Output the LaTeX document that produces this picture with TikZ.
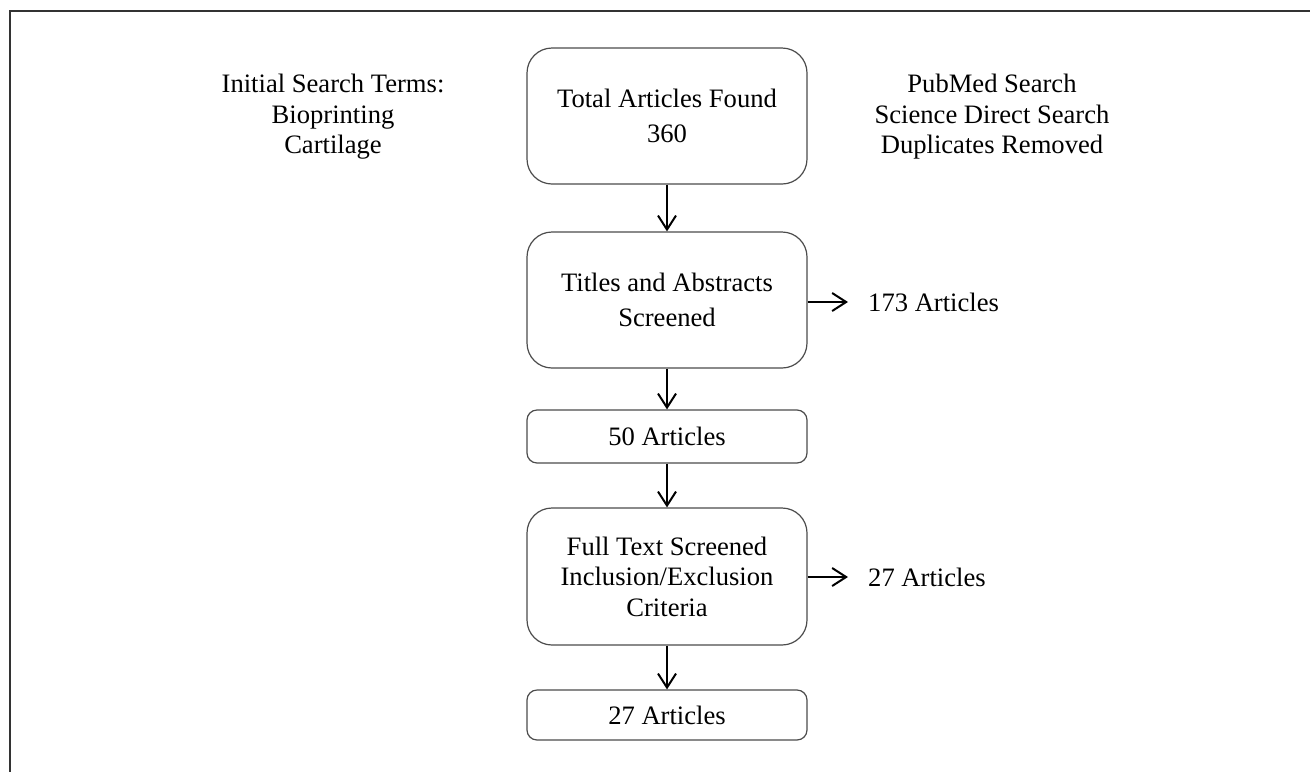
\documentclass[tikz,border=0pt]{standalone}
\usepackage{fontspec}
\setmainfont{Liberation Serif}
\usetikzlibrary{arrows.meta}
\begin{document}
\begin{tikzpicture}[x=1pt,y=-1pt,
  txt/.style={font=\fontsize{26.6}{30.5}\selectfont, align=center, inner sep=0pt},
  bigbox/.style={draw=black!70, line width=1.2pt, rounded corners=25pt, minimum width=280pt, txt},
  smallbox/.style={draw=black!70, line width=1.2pt, rounded corners=10pt, minimum width=280pt, txt},
  flow/.style={line width=2pt, -{Straight Barb[length=14pt,width=18pt,line width=2pt]}}
]
\useasboundingbox (0,0) rectangle (1310,772);
\draw[line width=2pt, black!80] (9,10.5) -- (1310,10.5);
\draw[line width=2pt, black!80] (10,10) -- (10,772);

\node[bigbox, minimum height=136pt, font=\fontsize{26.6}{35}\selectfont] (b1) at (667,116) {Total Articles Found\\360};
\node[bigbox, minimum height=136pt, font=\fontsize{26.6}{35}\selectfont] (b2) at (667,300) {Titles and Abstracts\\Screened};
\node[smallbox, minimum height=53pt] (b3) at (667,436.5) {50 Articles};
\node[bigbox, minimum height=137pt] (b4) at (667,576.5) {Full Text Screened\\Inclusion/Exclusion\\Criteria};
\node[smallbox, minimum height=50pt] (b5) at (667,715) {27 Articles};

\node[txt] (left) at (333,117) {Initial Search Terms:\\Bioprinting\\Cartilage};
\node[txt] (right) at (992,117) {PubMed Search\\Science Direct Search\\Duplicates Removed};

\node[txt, anchor=west] (r1) at (868,302) {173 Articles};
\node[txt, anchor=west] (r2) at (868,577) {27 Articles};

\coordinate (e1) at (848,302);
\coordinate (e2) at (848,577);

\draw[flow] (b1) -- (b2);
\draw[flow] (b2) -- (b3);
\draw[flow] (b3) -- (b4);
\draw[flow] (b4) -- (b5);
\draw[flow] (b2.east |- e1) -- (e1);
\draw[flow] (b4.east |- e2) -- (e2);
\end{tikzpicture}
\end{document}
